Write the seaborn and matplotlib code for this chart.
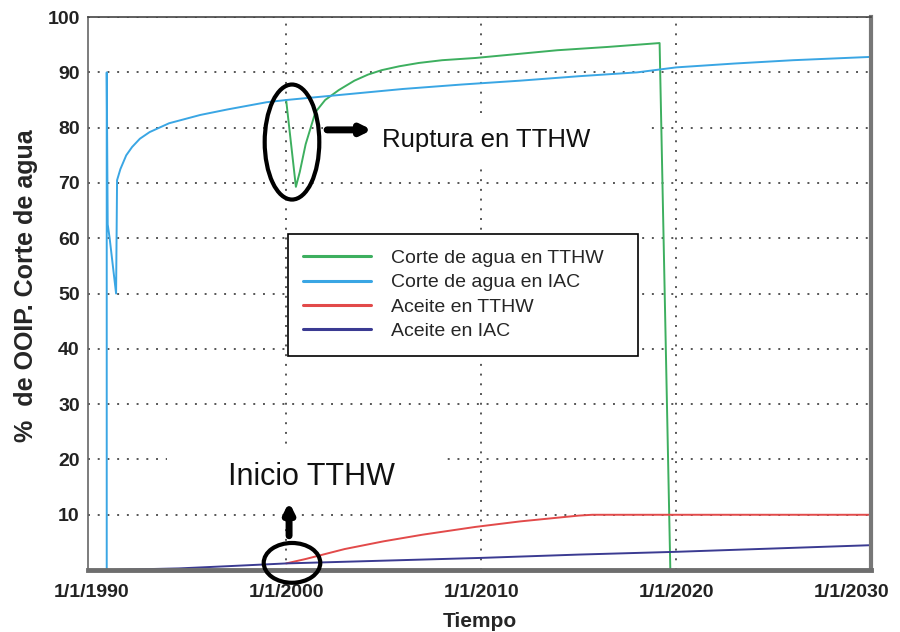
import numpy as np
import pandas as pd
import matplotlib.pyplot as plt
import matplotlib.transforms as mtransforms
import seaborn as sns
from matplotlib.patches import Ellipse, Rectangle

sns.set_style("white")
plt.rcParams['font.family'] = ['Liberation Sans', 'DejaVu Sans']

# Datos (anio decimal, %)
anio_tthw_agua = [2000.0, 2000.5, 2000.7, 2001.0, 2001.5, 2002.0, 2002.7,
                  2003.5, 2004.2, 2004.9, 2005.8, 2006.8, 2008.0, 2009.7,
                  2011.5, 2013.9, 2016.5, 2019.15, 2019.7]
corte_tthw = [85.0, 69.3, 72.0, 77.0, 82.8, 85.0, 86.8, 88.5, 89.6, 90.4, 91.1,
              91.7, 92.2, 92.6, 93.2, 94.0, 94.6, 95.3, 0.0]

anio_iac_agua = [1990.8, 1990.8, 1990.85, 1990.95, 1991.28, 1991.33, 1991.5,
                 1991.8, 1992.1, 1992.5, 1993.0, 1994.0, 1995.6, 1997.0,
                 1999.0, 2000.0, 2003.0, 2006.0, 2009.0, 2012.0, 2015.0,
                 2018.0, 2020.0, 2023.0, 2026.0, 2030.0]
corte_iac = [0.0, 90.0, 62.5, 60.0, 50.0, 70.5, 72.5, 75.0, 76.5, 78.0, 79.2,
             80.8, 82.3, 83.3, 84.6, 85.0, 86.0, 87.0, 87.8, 88.5, 89.3,
             90.0, 90.9, 91.6, 92.2, 92.8]

anio_tthw_aceite = [2000.0, 2001.0, 2003.0, 2005.0, 2007.0, 2009.7, 2012.0,
                    2014.0, 2015.0, 2015.7, 2030.0]
aceite_tthw = [1.2, 2.0, 3.8, 5.2, 6.4, 7.8, 8.8, 9.5, 9.85, 10.0, 10.0]

anio_iac_aceite = [1991.0, 1992.0, 1994.5, 1997.0, 2000.0, 2005.0, 2010.0,
                   2015.0, 2020.0, 2025.0, 2030.0]
aceite_iac = [0.0, 0.1, 0.3, 0.7, 1.2, 1.7, 2.2, 2.8, 3.3, 3.9, 4.5]

series = ["Corte de agua en TTHW", "Corte de agua en IAC",
          "Aceite en TTHW", "Aceite en IAC"]
colores = ["#3daf5f", "#3aa6e4", "#e24a4a", "#3b3b92"]

anios_x = [1990, 2000, 2010, 2020, 2030]
etiquetas_x = ["1/1/1990", "1/1/2000", "1/1/2010", "1/1/2020", "1/1/2030"]
ticks_y = [10, 20, 30, 40, 50, 60, 70, 80, 90, 100]

df = pd.concat([
    pd.DataFrame({"Tiempo": x, "valor": y, "serie": n})
    for x, y, n in zip([anio_tthw_agua, anio_iac_agua, anio_tthw_aceite, anio_iac_aceite],
                       [corte_tthw, corte_iac, aceite_tthw, aceite_iac], series)
], ignore_index=True)

fig, ax = plt.subplots(figsize=(9, 6.32), dpi=100)
fig.subplots_adjust(left=0.098, right=0.968, bottom=0.098, top=0.973)

sns.lineplot(data=df, x="Tiempo", y="valor", hue="serie", hue_order=series,
             palette=dict(zip(series, colores)), estimator=None, sort=False,
             lw=1.4, ax=ax)

ax.set_xlim(1989.85, 2030)
ax.set_ylim(0, 100)
ax.set_xticks(anios_x)
ax.set_xticklabels(etiquetas_x, fontsize=14, fontweight='bold', color='#222')
ax.set_yticks(ticks_y)
ax.set_yticklabels([str(t) for t in ticks_y], fontsize=14, fontweight='bold', color='#222')
ax.tick_params(length=0)
ax.tick_params(axis='x', pad=10)
ax.tick_params(axis='y', pad=6)

# la ultima etiqueta se corre un poco a la izquierda para que entre
ultima = ax.get_xticklabels()[-1]
ultima.set_transform(ultima.get_transform() +
                     mtransforms.ScaledTranslation(-14 / 72, 0, fig.dpi_scale_trans))

# rejilla punteada
ax.set_axisbelow(True)
ax.grid(True, ls=(0, (1, 4)), color='#555', lw=1.4)
for gl, loc in zip(ax.xaxis.get_gridlines(), anios_x):
    if loc in (1990, 2030):
        gl.set_visible(False)

ax.spines['bottom'].set(lw=3.5, color='#6e6e6e')
ax.spines['right'].set(lw=3, color='#777')
ax.spines['top'].set(lw=1.2, color='#444')
ax.spines['left'].set(lw=1.2, color='#666')

ax.set_xlabel("Tiempo", fontsize=15, fontweight='bold', labelpad=8)
ax.set_ylabel("%  de OOIP. Corte de agua", fontsize=18, fontweight='bold')
ax.yaxis.set_label_coords(-0.064, 0.515)

# leyenda
handles, labels = ax.get_legend_handles_labels()
leg = ax.legend(handles, labels, loc='upper left',
                bbox_to_anchor=(0.255, 0.608, 0.447, 0), mode='expand',
                fontsize=14, frameon=True, fancybox=False, framealpha=1,
                edgecolor='black', handlelength=3.5, handletextpad=1.0,
                labelspacing=0.35, borderpad=0.8, borderaxespad=0)
leg.get_frame().set_linewidth(1.2)
for h in leg.get_lines():
    h.set_linewidth(2.2)

# anotaciones
ax.add_patch(Rectangle((2001.9, 73.2), 16.6, 9.4, fc='white', ec='none', zorder=1))
ax.add_patch(Rectangle((1993.9, 11.8), 14.3, 10.8, fc='white', ec='none', zorder=1))

ax.add_patch(Ellipse((2000.3, 77.4), 2.8, 20.8, fill=False, ec='black', lw=3,
                     zorder=5, clip_on=False))
ax.add_patch(Ellipse((2000.3, 1.3), 2.9, 7.2, fill=False, ec='black', lw=3,
                     zorder=5, clip_on=False))

ax.annotate("", xy=(2004.4, 79.6), xytext=(2002.1, 79.6),
            arrowprops=dict(arrowstyle="-|>", lw=5, color='black',
                            mutation_scale=14, shrinkA=0, shrinkB=0), zorder=6)
ax.annotate("", xy=(2000.15, 12.3), xytext=(2000.15, 6.2),
            arrowprops=dict(arrowstyle="-|>", lw=5, color='black',
                            mutation_scale=14, shrinkA=0, shrinkB=0), zorder=6)

ax.text(2004.9, 77.8, "Ruptura en TTHW", fontsize=18.5, va='center', ha='left',
        color='#111', zorder=6)
ax.text(2001.3, 16.8, "Inicio TTHW", fontsize=22, va='center', ha='center',
        color='#111', zorder=6)

fig.savefig("out.png", dpi=100)
